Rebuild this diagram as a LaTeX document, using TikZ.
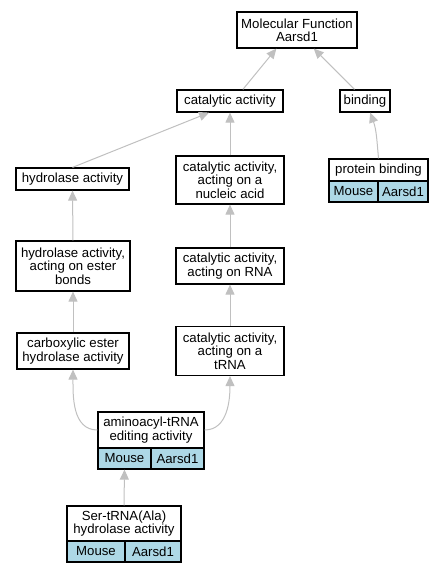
\documentclass[tikz,border=0pt]{standalone}
\usepackage{fontspec}
\setmainfont{Liberation Sans}
\usepackage{tikz}
\usetikzlibrary{arrows.meta}
\definecolor{edgegray}{RGB}{192,192,192}
\definecolor{cellblue}{RGB}{173,216,230}
\newcommand{\gofont}{\fontsize{13.2}{13.4}\selectfont}
\tikzstyle{term} = [draw, line width=1.2pt, fill=white, align=center, inner sep=0pt, font=\gofont]
\tikzstyle{cell} = [term, fill=cellblue]
\tikzstyle{isa} = [draw=edgegray, line width=1pt, -{Triangle[length=10pt,width=9pt]}]

\begin{document}
\begin{tikzpicture}[x=1pt,y=-1pt]
			\useasboundingbox (0,0) rectangle (444,573);
			% terms
			\node[term, minimum width=120, minimum height=36] (mf) at (297, 30) {Molecular Function\\Aarsd1};
			\node[term, minimum width=106, minimum height=22] (cat) at (230, 101) {catalytic activity};
			\node[term, minimum width=50, minimum height=22] (bind) at (365, 101) {binding};
			\node[term, minimum width=113, minimum height=22] (hyd) at (72.5, 179) {hydrolase activity};
			\node[term, minimum width=108, minimum height=48] (nuc) at (230, 180) {catalytic activity,\\acting on a\\nucleic acid};
			\node[term, minimum width=114, minimum height=50] (ester) at (73, 266) {hydrolase activity,\\acting on ester\\bonds};
			\node[term, minimum width=108, minimum height=36] (rna) at (230, 266) {catalytic activity,\\acting on RNA};
			\node[term, minimum width=112, minimum height=36] (carbox) at (73, 351) {carboxylic ester\\hydrolase activity};
			\node[term, minimum width=108, minimum height=49] (trna) at (230, 351) {catalytic activity,\\acting on a\\tRNA};
			% annotated terms
			\node[term, minimum width=99, minimum height=22] (prot) at (378.5, 170) {protein binding};
			\node[cell, minimum width=49, minimum height=21] (prot-mouse) at (353.5, 191.5) {Mouse};
			\node[cell, minimum width=50, minimum height=21] (prot-gene) at (403, 191.5) {Aarsd1};
			\node[term, minimum width=106, minimum height=36] (amino) at (151, 430) {aminoacyl-tRNA\\editing activity};
			\node[cell, minimum width=53, minimum height=21] (amino-mouse) at (124.5, 458.5) {Mouse};
			\node[cell, minimum width=53, minimum height=21] (amino-gene) at (177.5, 458.5) {Aarsd1};
			\node[term, minimum width=114, minimum height=35] (ser) at (124, 523.5) {Ser-tRNA(Ala)\\hydrolase activity};
			\node[cell, minimum width=58, minimum height=21] (ser-mouse) at (96, 551.5) {Mouse};
			\node[cell, minimum width=56, minimum height=21] (ser-gene) at (153, 551.5) {Aarsd1};
			% is_a edges
			\draw[isa] (cat.42) -- (mf.222);
			\draw[isa] (bind.132) -- (mf.312);
			\draw[isa] (hyd.north) -- (cat.209);
			\draw[isa] (nuc.north) -- (cat.south);
			\draw[isa] (prot.north) to[out=95,in=-70] (bind.-66);
			\draw[isa] (ester.north) -- (hyd.south);
			\draw[isa] (rna.north) -- (nuc.south);
			\draw[isa] (carbox.north) -- (ester.south);
			\draw[isa] (trna.north) -- (rna.south);
			\draw[isa] (amino.west) to[out=180,in=-90] (carbox.south);
			\draw[isa] (amino.east) to[out=0,in=-90] (trna.south);
			\draw[isa] (ser.north) -- (amino-mouse.south);
		\end{tikzpicture}
\end{document}
